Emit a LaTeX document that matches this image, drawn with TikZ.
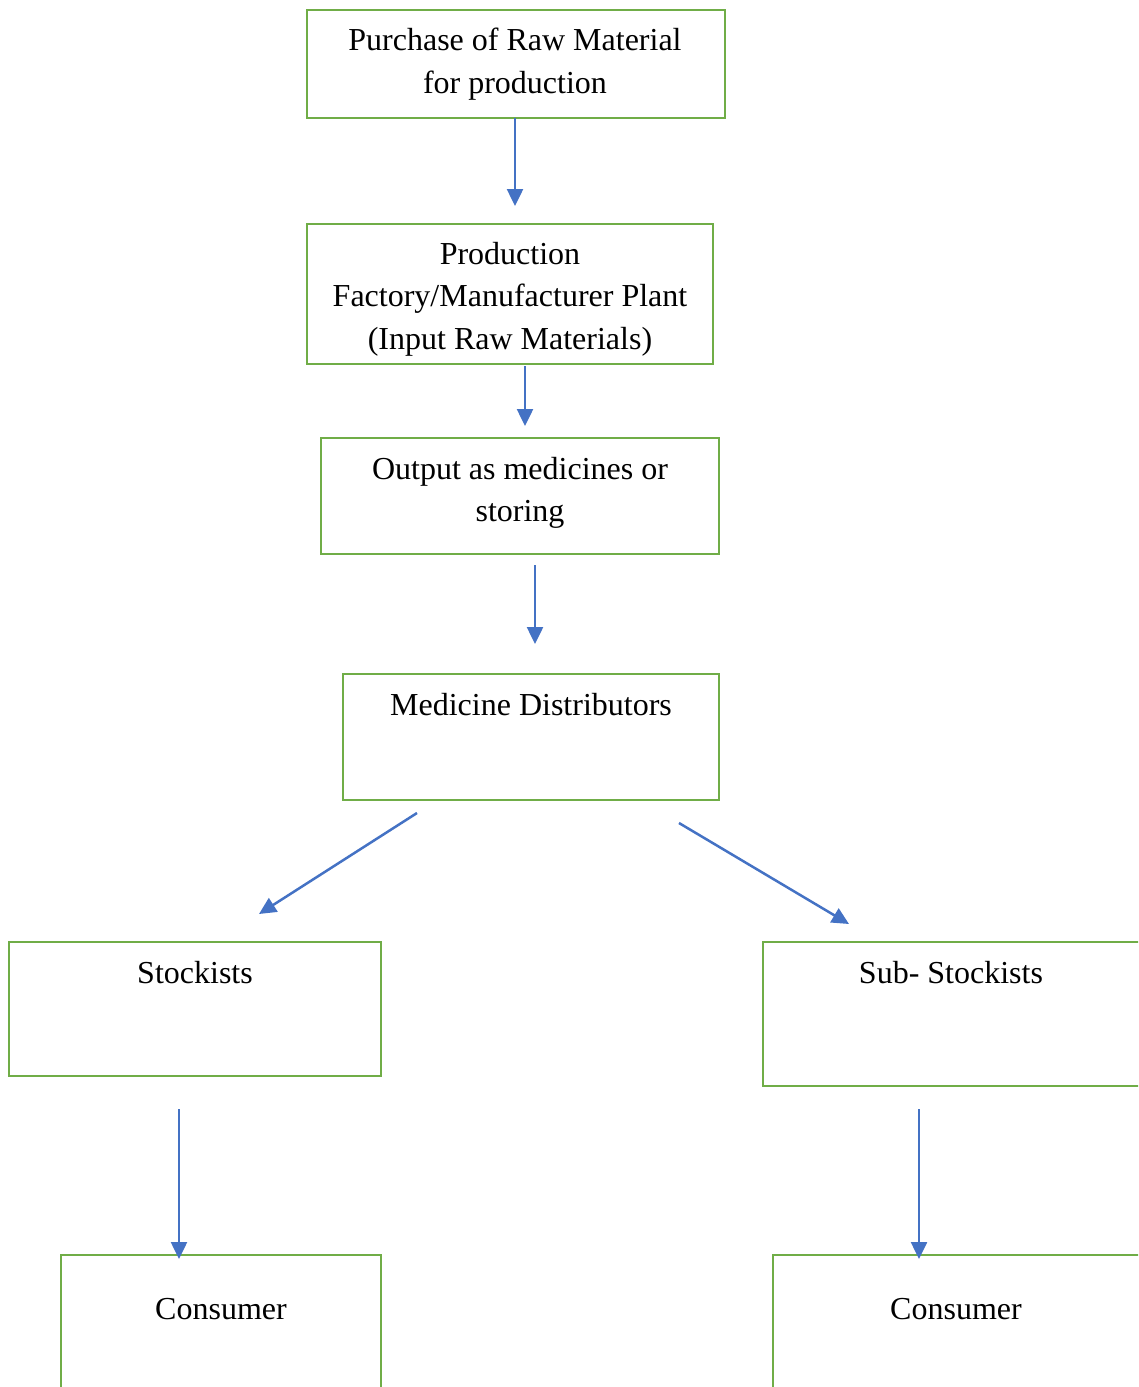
\documentclass[tikz,border=0pt]{standalone}
\usepackage{fontspec}
\setmainfont{Liberation Serif}
\usetikzlibrary{arrows.meta}
\definecolor{boxgreen}{HTML}{70AD47}
\definecolor{flowblue}{HTML}{4472C4}
\tikzset{
  box/.style={draw=boxgreen, line width=2.6pt, rectangle, inner sep=0pt},
  txt/.style={align=center, inner sep=0pt, font=\fontsize{32}{42.6}\selectfont},
  flow/.style={draw=flowblue, line width=2.5pt, -{Triangle[width=16pt,length=17pt]}}
}
\begin{document}
\begin{tikzpicture}[x=1pt,y=-1pt]
      \clip (0,0) rectangle (1138,1387);
      \node[box, minimum width=418pt, minimum height=108pt] (purchase) at (516,64) {};
      \node[box, minimum width=406pt, minimum height=140pt] (production) at (510,294) {};
      \node[box, minimum width=398pt, minimum height=116pt] (output) at (520,496) {};
      \node[box, minimum width=376pt, minimum height=126pt] (distributors) at (531,737) {};
      \node[box, minimum width=372pt, minimum height=134pt] (stockists) at (195,1009) {};
      \node[box, minimum width=387pt, minimum height=144pt] (substockists) at (956.5,1014) {};
      \node[box, minimum width=320pt, minimum height=145pt] (consumerL) at (221,1327.5) {};
      \node[box, minimum width=377pt, minimum height=145pt] (consumerR) at (961.5,1327.5) {};
      \node[txt] (purchaset) at (515,64) {Purchase of Raw Material\\for production};
      \node[txt] (productiont) at (510,299) {Production\\Factory/Manufacturer Plant\\(Input Raw Materials)};
      \node[txt] (outputt) at (520,493) {Output as medicines or\\storing};
      \node[txt] (distributorst) at (531,705) {Medicine Distributors};
      \node[txt] (stockistst) at (195,973) {Stockists};
      \node[txt] (substockistst) at (951,973) {Sub- Stockists};
      \node[txt] (consumerLt) at (221,1309) {Consumer};
      \node[txt] (consumerRt) at (956,1309) {Consumer};
      \coordinate (a1) at (515,118);
      \coordinate (b1) at (515,206);
      \coordinate (a2) at (525,366);
      \coordinate (b2) at (525,426);
      \coordinate (a3) at (535,565);
      \coordinate (b3) at (535,644);
      \coordinate (a4) at (417,813);
      \coordinate (b4) at (259,914);
      \coordinate (a5) at (679,823);
      \coordinate (b5) at (849,924);
      \coordinate (a6) at (179,1109);
      \coordinate (b6) at (179,1259);
      \coordinate (a7) at (919,1109);
      \coordinate (b7) at (919,1259);
      \begin{scope}[flow]
        \draw (a1) to (b1);
        \draw (a2) to (b2);
        \draw (a3) to (b3);
        \draw (a4) to (b4);
        \draw (a5) to (b5);
        \draw (a6) to (b6);
        \draw (a7) to (b7);
      \end{scope}
    \end{tikzpicture}
\end{document}
